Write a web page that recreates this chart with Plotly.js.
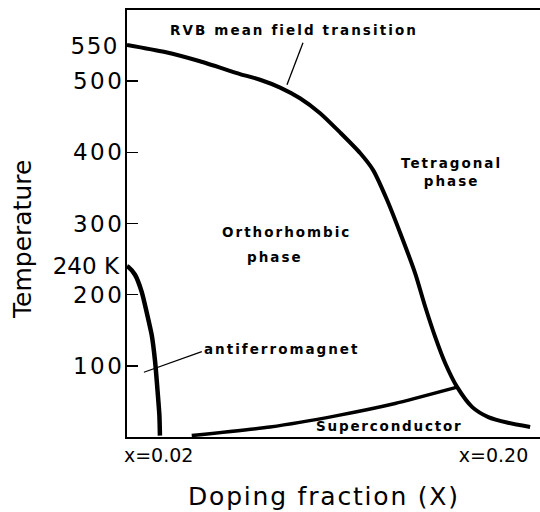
<!DOCTYPE html>
<html><head><meta charset="utf-8">
<script src="https://cdn.plot.ly/plotly-3.0.1.min.js"></script>
<style>html,body{margin:0;padding:0;background:#fff}</style>
</head><body>
<div id="chart" style="width:540px;height:512px"></div>
<script>
// RVB mean field transition (orthorhombic / tetragonal boundary)
const rvbX = [0.003, 0.0234, 0.0422, 0.0638, 0.0745, 0.0853, 0.0960, 0.1068, 0.1175, 0.1283, 0.1353, 0.1428, 0.1498, 0.1579, 0.1633, 0.1686, 0.1740, 0.1805, 0.1886, 0.1972, 0.2078, 0.2197];
const rvbY = [551, 541, 528, 510, 502, 491, 476, 455, 428, 399, 375, 333, 287, 230, 183, 141, 104, 70, 42, 28, 20, 14];
// antiferromagnet boundary
const afX = [0.003, 0.0037, 0.0073, 0.0109, 0.0136, 0.0163, 0.0181, 0.0193, 0.0204, 0.0207];
const afY = [240, 239, 228, 204, 175, 143, 106, 69, 31, 2];
// superconductor boundary
const scX = [0.0378, 0.0799, 0.1159, 0.1471, 0.1805];
const scY = [2, 14, 30, 47, 70];
// leader lines from labels to curves
const rvbLeadX = [0.0976, 0.0890];
const rvbLeadY = [554, 495];
const afLeadX = [0.0432, 0.0121];
const afLeadY = [120, 91];
// axis ticks
const yTickVals = [100, 200, 300, 400, 500];
const yTickText = ['100', '200', '300', '400', '500'];
const yMarkVals = [240, 550];
const yMarkText = ['240 K', '550'];
const xTickVals = [0.02, 0.20];
const xTickText = ['x=0.02', 'x=0.20'];

const sp = (t, s) => '<span style="letter-spacing:' + s + 'px">' + t + '</span>';
const lab = {family: 'DejaVu Sans', size: 13.5, color: '#000', weight: 'bold'};

const traces = [
  {x: rvbX, y: rvbY, mode: 'lines', line: {color: '#000', width: 4, shape: 'spline', smoothing: 0.7}, hoverinfo: 'skip'},
  {x: afX, y: afY, mode: 'lines', line: {color: '#000', width: 4.5, shape: 'spline', smoothing: 0.6}, hoverinfo: 'skip'},
  {x: scX, y: scY, mode: 'lines', line: {color: '#000', width: 3.5, shape: 'spline', smoothing: 0.5}, hoverinfo: 'skip'},
  {x: rvbLeadX, y: rvbLeadY, mode: 'lines', line: {color: '#000', width: 1.3}, hoverinfo: 'skip'},
  {x: afLeadX, y: afLeadY, mode: 'lines', line: {color: '#000', width: 1.3}, hoverinfo: 'skip'},
  {x: [0.1], y: [300], yaxis: 'y2', mode: 'markers', marker: {opacity: 0}, hoverinfo: 'skip'}
];

const layout = {
  width: 540, height: 512,
  margin: {l: 127, r: 0, t: 10, b: 75},
  paper_bgcolor: '#fff', plot_bgcolor: '#fff',
  showlegend: false,
  xaxis: {
    range: [0.003, 0.225], showgrid: false, zeroline: false,
    showline: true, mirror: true, linecolor: '#000', linewidth: 2,
    tickvals: xTickVals, ticktext: xTickText, ticks: '',
    tickfont: {family: 'DejaVu Sans', size: 19, color: '#000'}
  },
  yaxis: {
    range: [0, 600], showgrid: false, zeroline: false,
    showline: true, linecolor: '#000', linewidth: 2,
    tickvals: yTickVals, ticktext: yTickText.map(t => sp(t, 2.5)),
    ticks: 'inside', ticklen: 11, tickwidth: 1.5, tickcolor: '#000',
    ticklabelstandoff: -4,
    tickfont: {family: 'DejaVu Sans', size: 23, color: '#000'}
  },
  yaxis2: {
    range: [0, 600], overlaying: 'y', side: 'left', anchor: 'x',
    showgrid: false, zeroline: false, showline: false,
    tickvals: yMarkVals, ticktext: [yMarkText[0], sp(yMarkText[1], 1.5)], ticks: '',
    ticklabelstandoff: 7,
    tickfont: {family: 'DejaVu Sans', size: 23, color: '#000'}
  },
  annotations: [
    {x: 0.0928, y: 572, text: sp('RVB mean field transition', 2.1), showarrow: false, font: lab, xanchor: 'center', yanchor: 'middle'},
    {x: 0.1772, y: 372, text: sp('Tetragonal', 2.0) + '<br>' + sp('phase', 2.0), showarrow: false, font: lab, xanchor: 'center', yanchor: 'middle'},
    {x: 0.0885, y: 288, text: sp('Orthorhombic', 2.0), showarrow: false, font: lab, xanchor: 'center', yanchor: 'middle'},
    {x: 0.0826, y: 253, text: sp('phase', 2.0), showarrow: false, font: lab, xanchor: 'center', yanchor: 'middle'},
    {x: 0.0858, y: 124, text: sp('antiferromagnet', 2.0), showarrow: false, font: lab, xanchor: 'center', yanchor: 'middle'},
    {x: 0.1439, y: 15, text: sp('Superconductor', 1.8), showarrow: false, font: lab, xanchor: 'center', yanchor: 'middle'},
    {xref: 'paper', yref: 'paper', x: -0.2518, y: 0.4614, text: 'Temperature', textangle: -90, showarrow: false,
     font: {family: 'DejaVu Sans', size: 25, color: '#000'}, xanchor: 'center', yanchor: 'middle'},
    {xref: 'paper', yref: 'paper', x: 0.477, y: -0.1405, text: sp('Doping fraction (X)', 1.8), showarrow: false,
     font: {family: 'DejaVu Sans', size: 25, color: '#000'}, xanchor: 'center', yanchor: 'middle'}
  ]
};

Plotly.newPlot('chart', traces, layout, {displayModeBar: false, staticPlot: true});
</script>
</body></html>
